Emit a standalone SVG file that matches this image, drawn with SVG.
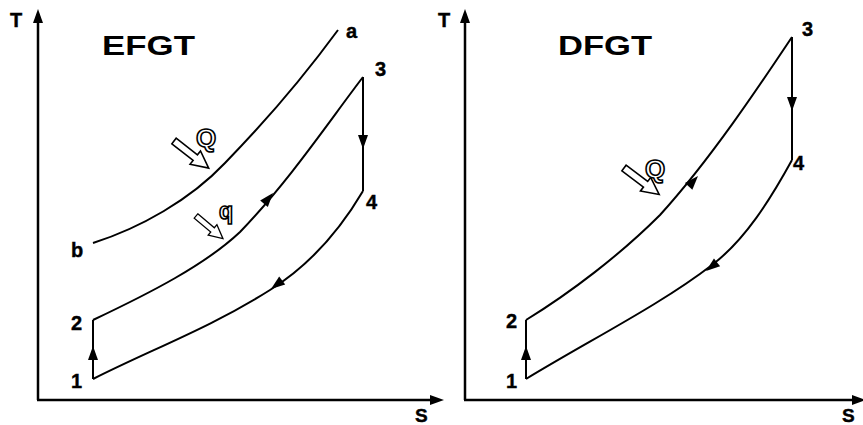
<svg xmlns="http://www.w3.org/2000/svg" xmlns:xlink="http://www.w3.org/1999/xlink" width="863" height="425" viewBox="0 0 863 425">
<style>
.ax{fill:none;stroke:#000;stroke-width:2.5}
.ln{fill:none;stroke:#000;stroke-width:2}
.lb{font-family:"Liberation Sans",Arial,sans-serif;font-weight:bold;fill:#000;stroke:#000;stroke-width:0.4}
.ttl{font-family:"Liberation Sans",Arial,sans-serif;font-weight:bold;font-size:28px;fill:#000}
.hq{font-family:"Liberation Sans",Arial,sans-serif;font-weight:bold;fill:#fff;stroke:#000;stroke-width:1.6}
.ha{fill:#fff;stroke:#000;stroke-width:1.6;stroke-linejoin:miter}
</style>
<defs>
<path id="ah" d="M0,0 L-14,-5 L-14,5 Z" fill="#000"/>
<path id="aa" d="M0,0 L-14,-5 L-14,5 Z" fill="#000"/>
<path id="hollow" d="M0,-3.5 L27,-3.5 L27,-8.5 L44,0 L27,8.5 L27,3.5 L0,3.5 Z"/>
</defs>

<g id="left-axes">
<line class="ax" x1="38" y1="400" x2="38" y2="14"/>
<line class="ax" x1="37" y1="400" x2="438" y2="400"/>
<use xlink:href="#aa" transform="translate(38,9) rotate(-90)"/>
<use xlink:href="#aa" transform="translate(444,400)"/>
<text class="lb" x="10" y="27" font-size="20">T</text>
<text class="lb" x="415" y="422" font-size="19">S</text>
</g>

<g id="right-axes">
<line class="ax" x1="465" y1="400" x2="465" y2="14"/>
<line class="ax" x1="464" y1="400" x2="860" y2="400"/>
<use xlink:href="#aa" transform="translate(465,9) rotate(-90)"/>
<use xlink:href="#aa" transform="translate(866,400)"/>
<text class="lb" x="438" y="27" font-size="20">T</text>
<text class="lb" x="842" y="422" font-size="19">S</text>
</g>

<g id="titles">
<text class="ttl" x="102" y="55" textLength="93" lengthAdjust="spacingAndGlyphs">EFGT</text>
<text class="ttl" x="558" y="55" textLength="94" lengthAdjust="spacingAndGlyphs">DFGT</text>
</g>

<g id="connectors">
<path class="ln" d="M93,243 C140,228 190,200 225,163 C265,122 305,75 338,30"/>
<path class="ln" d="M93,379 L93,320"/>
<path class="ln" d="M93,320 C150,293 205,265 240,232 C290,180 330,120 363,77"/>
<path class="ln" d="M363,77 L363,191"/>
<path class="ln" d="M363,191 C340,230 310,265 270,290 C210,328 150,350 93,379"/>
<use xlink:href="#ah" transform="translate(273,193) rotate(-50)"/>
<use xlink:href="#ah" transform="translate(363,149) rotate(90)"/>
<use xlink:href="#ah" transform="translate(271,289) rotate(143)"/>
<use xlink:href="#ah" transform="translate(93,346) rotate(-90)"/>
<path class="ln" d="M526,379 L526,320"/>
<path class="ln" d="M526,320 C570,293 620,255 660,215 C710,160 760,85 792,37"/>
<path class="ln" d="M792,37 L792,160"/>
<path class="ln" d="M792,160 C770,200 745,240 712,265 C660,305 590,340 526,379"/>
<use xlink:href="#ah" transform="translate(698,176) rotate(-48)"/>
<use xlink:href="#ah" transform="translate(792,111) rotate(90)"/>
<use xlink:href="#ah" transform="translate(706,271) rotate(142)"/>
<use xlink:href="#ah" transform="translate(526,346) rotate(-90)"/>
</g>

<g id="heat-left">
<use xlink:href="#hollow" class="ha" transform="translate(174,141) rotate(38)"/>
<text class="hq" x="196" y="147" font-size="26">Q</text>
<use xlink:href="#hollow" class="ha" transform="translate(196,216) rotate(40) scale(0.8)"/>
<text class="hq" x="219" y="219" font-size="23">q</text>
</g>

<g id="heat-right">
<use xlink:href="#hollow" class="ha" transform="translate(624,168) rotate(37)"/>
<text class="hq" x="645" y="178" font-size="26">Q</text>
</g>

<g id="labels-left">
<text class="lb" x="346" y="38" font-size="20">a</text>
<text class="lb" x="71" y="257" font-size="20">b</text>
<text class="lb" x="375" y="76" font-size="20">3</text>
<text class="lb" x="366" y="209" font-size="20">4</text>
<text class="lb" x="71" y="330" font-size="20">2</text>
<text class="lb" x="71" y="388" font-size="20">1</text>
</g>

<g id="labels-right">
<text class="lb" x="802" y="36" font-size="20">3</text>
<text class="lb" x="793" y="170" font-size="20">4</text>
<text class="lb" x="506" y="328" font-size="20">2</text>
<text class="lb" x="506" y="388" font-size="20">1</text>
</g>
</svg>
